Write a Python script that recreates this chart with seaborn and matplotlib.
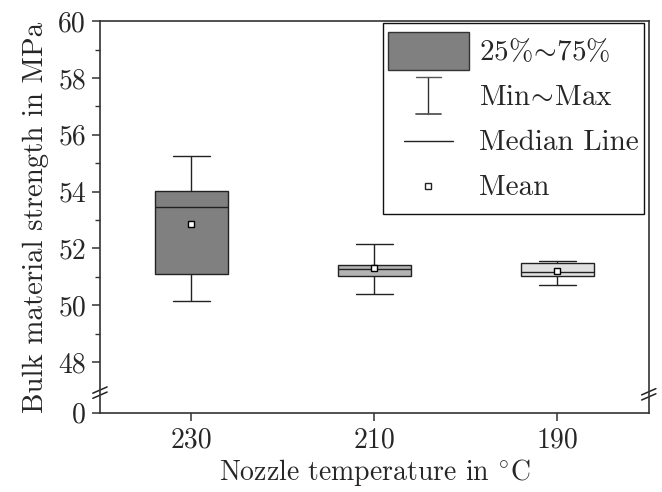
import numpy as np
import pandas as pd
import matplotlib
matplotlib.use("Agg")
import matplotlib.pyplot as plt
import seaborn as sns
from matplotlib.lines import Line2D
from matplotlib.patches import Rectangle
from matplotlib.legend_handler import HandlerBase

# ---- data (samples reproducing the read min / quartiles / median / max / mean) ----
temperatures = ["230", "210", "190"]
strength_230 = [50.15, 50.80, 51.08, 52.40, 53.45, 53.90, 54.03, 54.68, 55.25]
strength_210 = [50.41, 50.90, 51.01, 51.20, 51.29, 51.35, 51.42, 52.04, 52.17]
strength_190 = [50.72, 50.90, 51.02, 51.08, 51.15, 51.45, 51.49, 51.53, 51.55]
box_colors = ["#808080", "#b3b3b3", "#e1e1e1"]
ytick_values = [48, 50, 52, 54, 56, 58, 60]
legend_labels = [r"25%$\!\sim\!$75%", r"Min$\!\sim\!$Max", "Median Line", "Mean"]

df = pd.DataFrame({
    "temp": np.repeat(temperatures, [len(strength_230), len(strength_210), len(strength_190)]),
    "strength": strength_230 + strength_210 + strength_190,
})

sns.set_theme(style="ticks")
plt.rcParams["font.family"] = ["cmr10", "DejaVu Serif"]
plt.rcParams["mathtext.fontset"] = "cm"
plt.rcParams["axes.formatter.use_mathtext"] = True
FS = 20

fig = plt.figure(figsize=(6.62, 4.92), dpi=100)
ax = fig.add_axes([0.151, 0.161, 0.829, 0.796])

sns.boxplot(
    data=df, x="temp", y="strength", hue="temp", order=temperatures,
    hue_order=temperatures, palette=box_colors, legend=False,
    whis=(0, 100), width=0.4, linewidth=1.0, linecolor="#222222",
    showmeans=True,
    meanprops=dict(marker="s", markerfacecolor="white", markeredgecolor="black",
                   markersize=4.5, markeredgewidth=1.0),
    ax=ax,
)

# broken y axis: "0" placed just below 48
y_zero = 46.21
ax.set_ylim(y_zero, 60)
ax.set_xlim(-0.5, 2.5)
ax.set_yticks([y_zero] + ytick_values)
ax.set_yticklabels(["0"] + [str(v) for v in ytick_values])
ax.set_yticks(np.arange(49, 60, 2), minor=True)
ax.tick_params(axis="both", which="major", direction="out", length=6, width=1.1,
               labelsize=FS, color="#333333", pad=4)
ax.tick_params(axis="y", which="minor", direction="out", length=3.5, width=1.0, color="#333333")
ax.tick_params(axis="x", which="minor", bottom=False)

for s in ["left", "right", "top", "bottom"]:
    ax.spines[s].set_visible(True)
    ax.spines[s].set_linewidth(1.2)
    ax.spines[s].set_color("#333333")

# break marks
trans = ax.get_yaxis_transform()
for xb, yb in [(0.0, 46.92), (1.0, 46.86)]:
    for dy in (-0.09, 0.09):
        ax.plot([xb - 0.013, xb + 0.013], [yb + dy - 0.11, yb + dy + 0.11],
                transform=trans, color="#222222", lw=1.1, clip_on=False)

ax.set_xlabel(r"Nozzle temperature in $^{\circ}$C", fontsize=FS, labelpad=3)
ax.set_ylabel("Bulk material strength in MPa", fontsize=20.8, labelpad=7)
ax.grid(False)

# ---- legend with custom handles ----
class KindHandler(HandlerBase):
    def __init__(self, kind):
        super().__init__()
        self.kind = kind

    def create_artists(self, legend, orig, xd, yd, w, h, fs, trans):
        x0, y0 = -xd, -yd
        cx, cy = x0 + w / 2, y0 + h / 2
        if self.kind == "box":
            r = Rectangle((x0, cy - 0.44 * h), w, h * 0.88, facecolor=box_colors[0],
                          edgecolor="#333333", lw=1.0, transform=trans)
            return [r]
        if self.kind == "whisk":
            hh = h * 0.43
            cw = w * 0.155
            arts = [Line2D([cx, cx], [cy - hh, cy + hh], color="#333333", lw=1.0),
                    Line2D([cx - cw, cx + cw], [cy - hh, cy - hh], color="#555555", lw=1.3),
                    Line2D([cx - cw, cx + cw], [cy + hh, cy + hh], color="#555555", lw=1.0)]
            for a in arts:
                a.set_transform(trans)
            return arts
        if self.kind == "line":
            l = Line2D([cx - w * 0.31, cx + w * 0.31], [cy, cy], color="#222222", lw=1.0)
            l.set_transform(trans)
            return [l]
        m = Line2D([cx], [cy], marker="s", markersize=4, markerfacecolor="white",
                   markeredgecolor="#222222", markeredgewidth=1.0, linestyle="none")
        m.set_transform(trans)
        return [m]

handles = [Rectangle((0, 0), 1, 1), Line2D([], []), Line2D([], []), Line2D([], [], marker="s")]
kinds = ["box", "whisk", "line", "mean"]
leg = ax.legend(
    handles, legend_labels,
    handler_map={h: KindHandler(k) for h, k in zip(handles, kinds)},
    loc="upper right", bbox_to_anchor=(0.992, 0.995), fontsize=21,
    frameon=True, fancybox=False, edgecolor="#111111", framealpha=1,
    handlelength=2.75, handleheight=1.9, labelspacing=0.07, handletextpad=0.35,
    borderpad=0.2, borderaxespad=0.0,
)
leg.get_frame().set_linewidth(1.0)

fig.savefig("out.png", dpi=100, facecolor="white")
